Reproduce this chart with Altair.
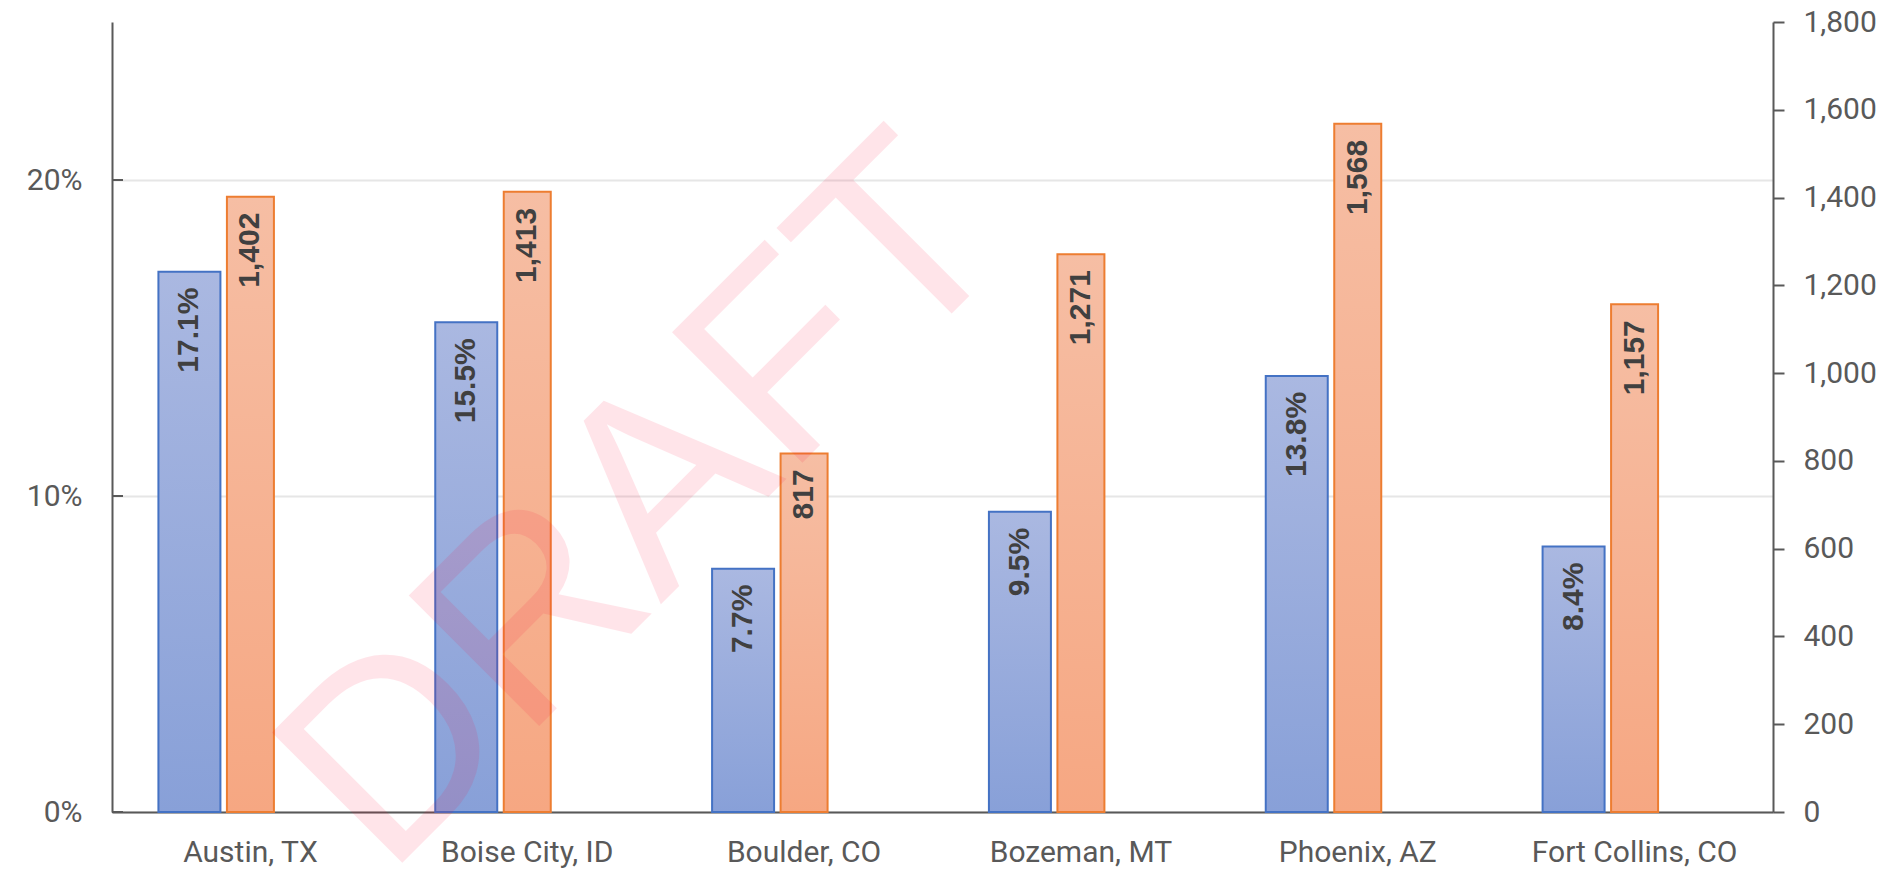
import altair as alt
import pandas as pd

cities = ["Austin, TX", "Boise City, ID", "Boulder, CO", "Bozeman, MT", "Phoenix, AZ", "Fort Collins, CO"]
share = [0.171, 0.155, 0.077, 0.095, 0.138, 0.084]
count = [1402, 1413, 817, 1271, 1568, 1157]
left_ticks = [0, 0.1, 0.2]
right_ticks = [0, 200, 400, 600, 800, 1000, 1200, 1400, 1600, 1800]
watermark = ["DRAFT"]

df = pd.DataFrame({"city": cities, "share": share, "count": count})
ltick_df = pd.DataFrame({"v": left_ticks})
wm_df = pd.DataFrame({"t": watermark})

W, H = 1661, 790
AXIS_COLOR = "#595959"
LABEL_FONT = "Roboto"

x_enc = alt.X(
    "city:N", sort=cities,
    scale=alt.Scale(paddingInner=0, paddingOuter=0),
    axis=alt.Axis(title=None, labelAngle=0, ticks=False, domainColor=AXIS_COLOR,
                  domainWidth=2, labelFont=LABEL_FONT, labelFontSize=30,
                  labelColor=AXIS_COLOR, labelPadding=25, grid=False,
                  labelLimit=400),
)

left_scale = alt.Scale(domain=[0, 0.25], nice=False, zero=True)
left_axis = alt.Axis(orient="left", values=left_ticks, format=".0%", title=None,
                     ticks=False, tickSize=0, grid=True, gridColor="#e6e6e6", gridWidth=2,
                     domainColor=AXIS_COLOR, domainWidth=2, labelFont=LABEL_FONT,
                     labelFontSize=30, labelColor=AXIS_COLOR, labelPadding=30,
                     labelOverlap=False)

right_scale = alt.Scale(domain=[0, 1800], nice=False, zero=True)
right_axis = alt.Axis(orient="right", values=right_ticks, format=",.0f", title=None,
                      tickSize=11, tickWidth=2, tickColor=AXIS_COLOR, grid=False,
                      domainColor=AXIS_COLOR, domainWidth=2, labelFont=LABEL_FONT,
                      labelFontSize=30, labelColor=AXIS_COLOR, labelPadding=19,
                      labelOverlap=False)

blue_grad = {"gradient": "linear", "x1": 0, "y1": 0, "x2": 0, "y2": 1,
             "stops": [{"offset": 0, "color": "#aab8e1"}, {"offset": 1, "color": "#88a0d8"}]}
orange_grad = {"gradient": "linear", "x1": 0, "y1": 0, "x2": 0, "y2": 1,
               "stops": [{"offset": 0, "color": "#f6bea4"}, {"offset": 1, "color": "#f6a782"}]}

base = alt.Chart(df)

blue_bars = base.mark_bar(width=62, xOffset=-61, fill=blue_grad, stroke="#4472C4",
                          strokeWidth=2).encode(
    x=x_enc, y=alt.Y("share:Q", scale=left_scale, axis=left_axis))
blue_labels = base.mark_text(angle=270, align="right", baseline="middle", dx=-16, xOffset=-61,
                             font="Liberation Sans", fontWeight="bold", fontSize=30,
                             color="#404040").encode(
    x=x_enc, y=alt.Y("share:Q", scale=left_scale, axis=left_axis),
    text=alt.Text("share:Q", format=".1%"))
left_tick_rules = alt.Chart(ltick_df).mark_rule(color=AXIS_COLOR, strokeWidth=2).encode(
    x=alt.value(0), x2=alt.value(11),
    y=alt.Y("v:Q", scale=left_scale, axis=left_axis))

orange_bars = base.mark_bar(width=47, xOffset=0, fill=orange_grad, stroke="#ED7D31",
                            strokeWidth=2).encode(
    x=x_enc, y=alt.Y("count:Q", scale=right_scale, axis=right_axis))
orange_labels = base.mark_text(angle=270, align="right", baseline="middle", dx=-16,
                               font="Liberation Sans", fontWeight="bold", fontSize=30,
                               color="#404040").encode(
    x=x_enc, y=alt.Y("count:Q", scale=right_scale, axis=right_axis),
    text=alt.Text("count:Q", format=","))

left = alt.layer(blue_bars, blue_labels, left_tick_rules)
right = alt.layer(orange_bars, orange_labels)

wm = alt.Chart(wm_df).mark_text(angle=315, fontSize=268, font="Liberation Sans",
                                color="#ff0033", opacity=0.1, align="center",
                                baseline="middle").encode(
    x=alt.value(534), y=alt.value(484), text="t:N")

chart = alt.layer(left, right, wm).resolve_scale(y="independent").properties(
    width=W, height=H,
    autosize=alt.AutoSizeParams(type="none"),
    padding={"left": 104, "top": 14, "right": 120, "bottom": 57},
    background="white",
).configure_view(stroke=None)

chart.save("out.html", embed_options={"renderer": "svg", "actions": False})
